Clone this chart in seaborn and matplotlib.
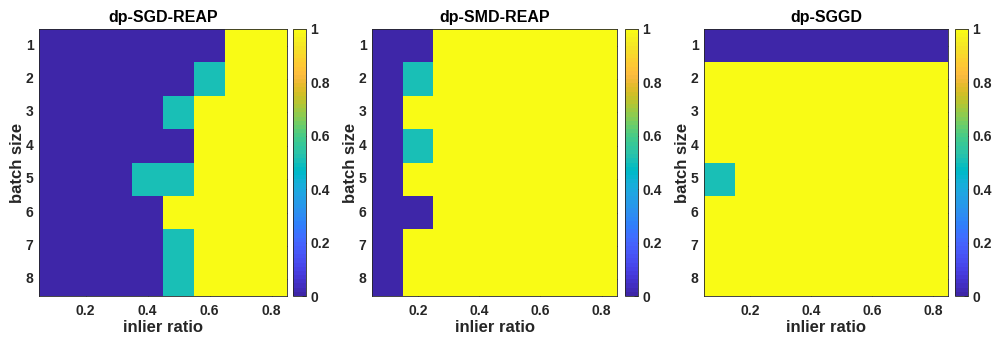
import numpy as np
import pandas as pd
import matplotlib
matplotlib.use("Agg")
import matplotlib.pyplot as plt
from matplotlib.colors import ListedColormap
import seaborn as sns

# ---- data ----
inlier_ratio = [0.1, 0.2, 0.3, 0.4, 0.5, 0.6, 0.7, 0.8]
batch_size = [1, 2, 3, 4, 5, 6, 7, 8]
xtick_values = [0.2, 0.4, 0.6, 0.8]
cbar_ticks = [0, 0.2, 0.4, 0.6, 0.8, 1]
titles = ["dp-SGD-REAP", "dp-SMD-REAP", "dp-SGGD"]

sgd_reap = [
    [0, 0, 0, 0, 0, 0, 1, 1],
    [0, 0, 0, 0, 0, 0.5, 1, 1],
    [0, 0, 0, 0, 0.5, 1, 1, 1],
    [0, 0, 0, 0, 0, 1, 1, 1],
    [0, 0, 0, 0.5, 0.5, 1, 1, 1],
    [0, 0, 0, 0, 1, 1, 1, 1],
    [0, 0, 0, 0, 0.5, 1, 1, 1],
    [0, 0, 0, 0, 0.5, 1, 1, 1],
]
smd_reap = [
    [0, 0, 1, 1, 1, 1, 1, 1],
    [0, 0.5, 1, 1, 1, 1, 1, 1],
    [0, 1, 1, 1, 1, 1, 1, 1],
    [0, 0.5, 1, 1, 1, 1, 1, 1],
    [0, 1, 1, 1, 1, 1, 1, 1],
    [0, 0, 1, 1, 1, 1, 1, 1],
    [0, 1, 1, 1, 1, 1, 1, 1],
    [0, 1, 1, 1, 1, 1, 1, 1],
]
sggd = [
    [0, 0, 0, 0, 0, 0, 0, 0],
    [1, 1, 1, 1, 1, 1, 1, 1],
    [1, 1, 1, 1, 1, 1, 1, 1],
    [1, 1, 1, 1, 1, 1, 1, 1],
    [0.5, 1, 1, 1, 1, 1, 1, 1],
    [1, 1, 1, 1, 1, 1, 1, 1],
    [1, 1, 1, 1, 1, 1, 1, 1],
    [1, 1, 1, 1, 1, 1, 1, 1],
]

# ---- parula colormap (MATLAB) ----
parula_data = [
    [0.2422, 0.1504, 0.6603], [0.2504, 0.1650, 0.7076], [0.2578, 0.1818, 0.7511],
    [0.2647, 0.1978, 0.7952], [0.2706, 0.2147, 0.8364], [0.2751, 0.2342, 0.8710],
    [0.2783, 0.2559, 0.8991], [0.2803, 0.2782, 0.9221], [0.2813, 0.3006, 0.9414],
    [0.2810, 0.3228, 0.9579], [0.2795, 0.3447, 0.9717], [0.2760, 0.3667, 0.9829],
    [0.2699, 0.3892, 0.9906], [0.2602, 0.4123, 0.9952], [0.2440, 0.4358, 0.9988],
    [0.2206, 0.4603, 0.9973], [0.1963, 0.4847, 0.9892], [0.1834, 0.5074, 0.9798],
    [0.1786, 0.5289, 0.9682], [0.1764, 0.5499, 0.9520], [0.1687, 0.5703, 0.9359],
    [0.1540, 0.5902, 0.9218], [0.1460, 0.6091, 0.9079], [0.1380, 0.6276, 0.8973],
    [0.1248, 0.6459, 0.8883], [0.1113, 0.6635, 0.8763], [0.0952, 0.6798, 0.8598],
    [0.0689, 0.6948, 0.8394], [0.0297, 0.7082, 0.8163], [0.0036, 0.7203, 0.7917],
    [0.0067, 0.7312, 0.7660], [0.0433, 0.7411, 0.7394], [0.0964, 0.7500, 0.7120],
    [0.1408, 0.7584, 0.6842], [0.1717, 0.7670, 0.6554], [0.1938, 0.7758, 0.6251],
    [0.2161, 0.7843, 0.5923], [0.2470, 0.7918, 0.5567], [0.2906, 0.7973, 0.5188],
    [0.3406, 0.8008, 0.4789], [0.3909, 0.8029, 0.4354], [0.4456, 0.8024, 0.3909],
    [0.5044, 0.7993, 0.3480], [0.5616, 0.7942, 0.3045], [0.6174, 0.7876, 0.2612],
    [0.6720, 0.7793, 0.2227], [0.7242, 0.7698, 0.1910], [0.7738, 0.7598, 0.1646],
    [0.8203, 0.7498, 0.1535], [0.8634, 0.7406, 0.1596], [0.9035, 0.7330, 0.1774],
    [0.9393, 0.7288, 0.2100], [0.9728, 0.7298, 0.2394], [0.9956, 0.7434, 0.2371],
    [0.9970, 0.7659, 0.2199], [0.9952, 0.7893, 0.2028], [0.9892, 0.8136, 0.1885],
    [0.9786, 0.8386, 0.1766], [0.9676, 0.8639, 0.1643], [0.9610, 0.8890, 0.1537],
    [0.9597, 0.9135, 0.1423], [0.9628, 0.9373, 0.1265], [0.9691, 0.9606, 0.1064],
    [0.9769, 0.9839, 0.0805],
]
parula = ListedColormap(parula_data, name="parula")

sns.set_theme(style="white")
plt.rcParams["font.family"] = ["Liberation Sans", "DejaVu Sans"]
plt.rcParams["font.weight"] = "bold"
plt.rcParams["axes.labelweight"] = "bold"
plt.rcParams["axes.titleweight"] = "bold"

W, H = 997, 339
fig = plt.figure(figsize=(W / 100, H / 100), dpi=100)

# pixel layouts: (ax_left, ax_right, cbar_left, cbar_right)
layouts = [(39, 287, 293, 306), (372, 617, 625, 638), (704, 948, 955, 968)]
top_px, bot_px = 29, 296
datasets = [sgd_reap, smd_reap, sggd]
edge = "#262626"
tick_fs = 10

for (l, r, cl, cr), title, data in zip(layouts, titles, datasets):
    ax = fig.add_axes([l / W, 1 - bot_px / H, (r - l) / W, (bot_px - top_px) / H])
    cax = fig.add_axes([cl / W, 1 - bot_px / H, (cr - cl) / W, (bot_px - top_px) / H])
    df = pd.DataFrame(data, index=batch_size, columns=inlier_ratio)
    sns.heatmap(df, ax=ax, cbar_ax=cax, cmap=parula, vmin=0, vmax=1,
                linewidths=0, square=False,
                cbar_kws={"ticks": cbar_ticks})
    # x ticks at selected ratios
    xpos = [inlier_ratio.index(v) + 0.5 for v in xtick_values]
    ax.set_xticks(xpos)
    ax.set_xticklabels([f"{v:g}" for v in xtick_values], rotation=0,
                       fontsize=tick_fs, fontweight="bold", color="#262626")
    ax.set_yticks([i + 0.5 for i in range(len(batch_size))])
    ax.set_yticklabels([str(b) for b in batch_size], rotation=0,
                       fontsize=tick_fs, fontweight="bold", color="#262626")
    ax.tick_params(axis="both", direction="in", length=3, width=0.6,
                   color=edge, top=True, right=True, bottom=True, left=True)
    ax.tick_params(axis="x", pad=6)
    ax.tick_params(axis="y", pad=4)
    ax.set_xlabel("inlier ratio", fontsize=12, fontweight="bold", color="#262626", labelpad=1.5)
    ax.set_ylabel("batch size", fontsize=12, fontweight="bold", color="#262626", labelpad=0.5)
    ax.set_title(title, fontsize=11.5, fontweight="bold", color="black", pad=5)
    for s in ax.spines.values():
        s.set_visible(True)
        s.set_color(edge)
        s.set_linewidth(0.6)
    # colorbar styling
    cax.set_yticklabels([f"{t:g}" for t in cbar_ticks], fontsize=tick_fs,
                        fontweight="bold", color="#262626")
    cax.tick_params(axis="y", direction="in", length=3, width=0.6, color=edge, pad=3)
    cbar = ax.collections[0].colorbar
    cbar.outline.set_visible(True)
    cbar.outline.set_edgecolor(edge)
    cbar.outline.set_linewidth(0.6)

fig.savefig("out.png", dpi=100)
